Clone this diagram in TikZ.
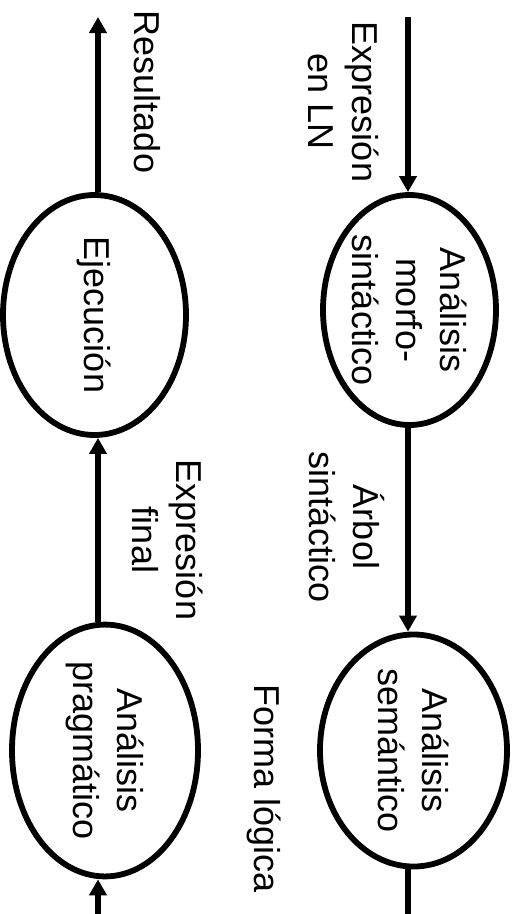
\documentclass[tikz,border=0pt]{standalone}
\usepackage{fontspec}
\setmainfont{Liberation Sans}
\usetikzlibrary{arrows.meta,shapes.geometric}
\begin{document}
\begin{tikzpicture}[x=1pt,y=-1pt,
  proc/.style={ellipse,draw,line width=5.8pt,inner sep=0pt,rotate=-90,align=center,font=\fontsize{36}{44}\selectfont},
  lbl/.style={rotate=-90,align=center,inner sep=0pt,font=\fontsize{36}{44}\selectfont},
  flow/.style={line width=5.2pt},
  arr/.style={flow,-{Triangle[length=16pt,width=17pt]}}]
\useasboundingbox (0,0) rectangle (517,914);
\node[proc,minimum width=230pt,minimum height=173pt] (ms) at (409.5,310) {Análisis\\morfo-\\sintáctico};
\node[proc,minimum width=229pt,minimum height=187pt] (se) at (413.5,750.5) {Análisis\\semántico};
\node[proc,minimum width=240pt,minimum height=183pt] (ej) at (94.5,315) {Ejecución};
\node[proc,minimum width=229pt,minimum height=186pt] (pr) at (105,750.5) {Análisis\\pragmático};
\coordinate (inR) at (408,17);
\coordinate (outR) at (408,914);
\coordinate (inL) at (98,914);
\coordinate (outL) at (98,17);
\draw[arr] (inR) -- (inR |- ms.west);
\draw[arr] (inR |- ms.east) -- (inR |- se.west);
\draw[flow] (inR |- se.east) -- (outR);
\draw[arr] (inL) -- (inL |- pr.east);
\draw[arr] (inL |- pr.west) -- (inL |- ej.east);
\draw[arr] (inL |- ej.west) -- (outL);
\node[lbl] (res) at (147,92) {Resultado};
\node[lbl] (eln) at (344,102) {Expresión\\en LN};
\node[lbl] (arb) at (347,527) {Árbol\\sintáctico};
\node[lbl] (efin) at (168,540) {Expresión\\final};
\node[lbl] (flog) at (264,789) {Forma lógica};
\end{tikzpicture}
\end{document}
